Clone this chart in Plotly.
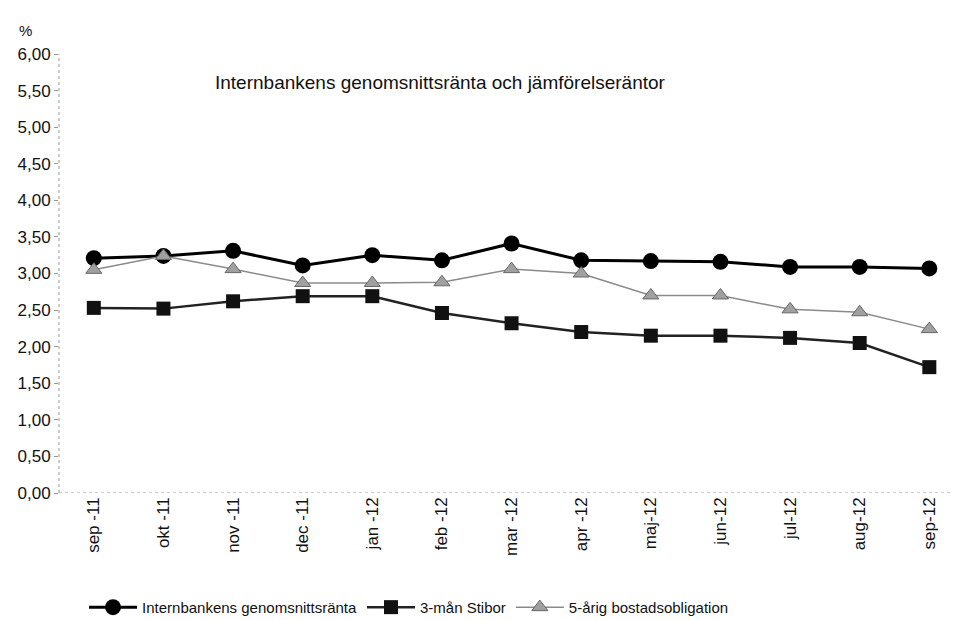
import plotly.graph_objects as go

# Months (x categories)
months = ["sep -11", "okt -11", "nov -11", "dec -11", "jan -12", "feb -12", "mar -12",
          "apr -12", "maj-12", "jun-12", "jul-12", "aug-12", "sep-12"]

# Series values (%)
internbanken = [3.21, 3.24, 3.31, 3.11, 3.25, 3.18, 3.41, 3.18, 3.17, 3.16, 3.09, 3.09, 3.07]
stibor_3m = [2.53, 2.52, 2.62, 2.69, 2.69, 2.46, 2.32, 2.20, 2.15, 2.15, 2.12, 2.05, 1.72]
bostad_5ar = [3.05, 3.24, 3.06, 2.87, 2.87, 2.88, 3.06, 3.00, 2.70, 2.70, 2.51, 2.47, 2.24]

y_ticks = [0, 0.5, 1, 1.5, 2, 2.5, 3, 3.5, 4, 4.5, 5, 5.5, 6]

fig = go.Figure()
fig.add_trace(go.Scatter(x=months, y=internbanken, name="Internbankens genomsnittsränta",
                         mode="lines+markers", cliponaxis=False,
                         line=dict(color="black", width=3),
                         marker=dict(symbol="circle", size=16, color="black")))
fig.add_trace(go.Scatter(x=months, y=stibor_3m, name="3-mån Stibor",
                         mode="lines+markers", cliponaxis=False,
                         line=dict(color="#222222", width=2.5),
                         marker=dict(symbol="square", size=14, color="#111111")))
fig.add_trace(go.Scatter(x=months, y=bostad_5ar, name="5-årig bostadsobligation",
                         mode="lines+markers", cliponaxis=False,
                         line=dict(color="#8a8a8a", width=1.5),
                         marker=dict(symbol="triangle-up", size=14, color="#a0a0a0",
                                     line=dict(color="#666666", width=1))))

# dotted axis lines like the original
fig.add_shape(type="line", xref="paper", yref="y", x0=0, x1=1, y0=0, y1=0,
              line=dict(color="#999999", width=1, dash="dot"))
fig.add_shape(type="line", xref="paper", yref="y", x0=0, x1=0, y0=0, y1=6,
              line=dict(color="#999999", width=1, dash="dot"))

fig.add_annotation(text="Internbankens genomsnittsränta och jämförelseräntor",
                   xref="paper", yref="paper", x=0.427, y=0.963, showarrow=False,
                   font=dict(size=19, color="#111111"))
fig.add_annotation(text="%", xref="paper", yref="paper", x=-0.047, y=1.077,
                   showarrow=False, font=dict(size=15, color="#111111"))

fig.update_xaxes(type="category", range=[-0.5, 12.34], showgrid=False, showline=False,
                 tickangle=-90, tickfont=dict(size=17, color="#111111"),
                 ticks="", zeroline=False, automargin=False)
fig.update_yaxes(range=[0, 6], tickvals=y_ticks, tickformat=".2f", showgrid=False,
                 showline=False, zeroline=False, ticks="outside", ticklen=4,
                 tickcolor="#999999", tickfont=dict(size=17, color="#111111"),
                 automargin=False)

fig.update_layout(
    width=953, height=620, separators=", ",
    plot_bgcolor="white", paper_bgcolor="white",
    font=dict(family="Liberation Sans Narrow, Liberation Sans, Arial", color="#111111"),
    margin=dict(l=59, r=0, t=54, b=127, autoexpand=False),
    showlegend=True,
    legend=dict(orientation="h", x=0.028, y=-0.223, xanchor="left", yanchor="top",
                font=dict(size=15, color="#111111"), itemwidth=48, tracegroupgap=0),
)

# drop the browser's default body margin so the figure sits at the page corner
fig.write_html("out.html", config={"displayModeBar": False},
               post_script="document.body.style.margin='0';")
